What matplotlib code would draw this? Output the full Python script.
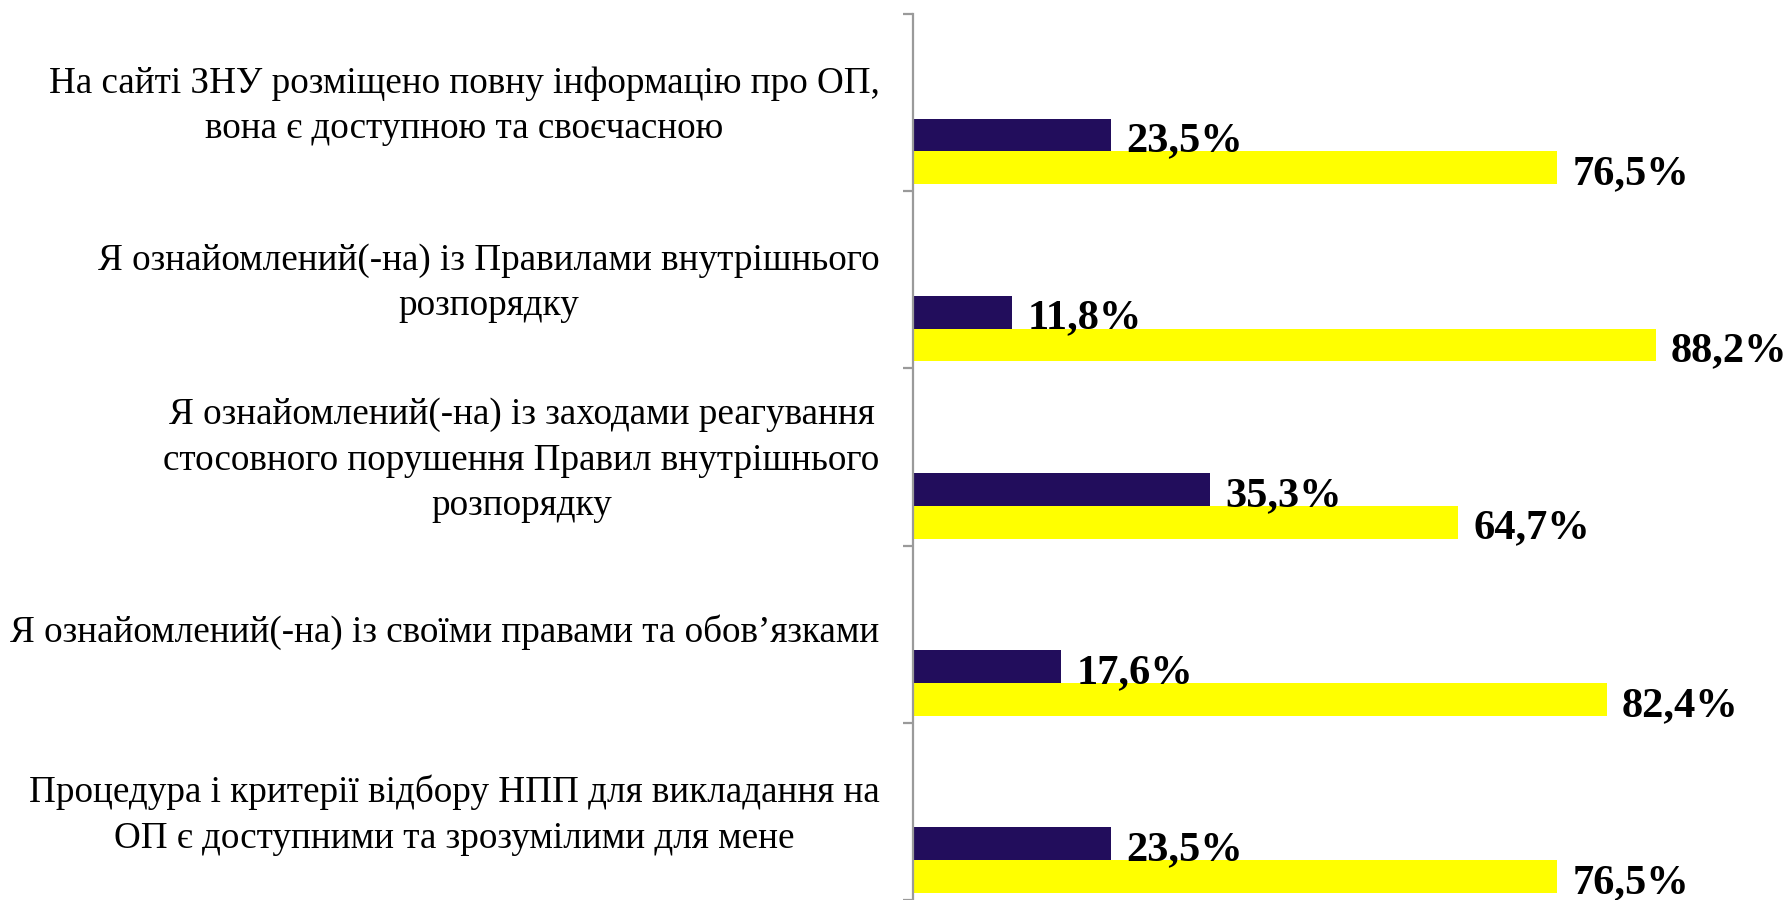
import matplotlib
matplotlib.use("Agg")
import matplotlib.pyplot as plt
import numpy as np

# data
categories = [
    "На сайті ЗНУ розміщено повну інформацію про ОП,\nвона є доступною та своєчасною",
    "Я ознайомлений(-на) із Правилами внутрішнього\nрозпорядку",
    "Я ознайомлений(-на) із заходами реагування\nстосовного порушення Правил внутрішнього\nрозпорядку",
    "Я ознайомлений(-на) із своїми правами та обов’язками",
    "Процедура і критерії відбору НПП для викладання на\nОП є доступними та зрозумілими для мене",
]
no_values = [23.5, 11.8, 35.3, 17.6, 23.5]
yes_values = [76.5, 88.2, 64.7, 82.4, 76.5]

navy = "#220D5C"
yellow = "#FFFF00"
axis_grey = "#9A9A9A"

plt.rcParams['font.family'] = ['Liberation Serif', 'DejaVu Serif']

fig = plt.figure(figsize=(17.9, 9), dpi=100)
ax = fig.add_axes([913 / 1790, 0.0, 842 / 1790, 886 / 900])

pos = np.arange(len(categories))
bar_h = 0.185
ax.barh(pos + 0.59, no_values, height=bar_h, align='edge', color=navy)
ax.barh(pos + 0.59 + bar_h, yes_values, height=bar_h, align='edge', color=yellow)

# value labels, baseline sitting on the lower edge of each bar
for i in range(len(categories)):
    for v, off in ((no_values[i], 0.59), (yes_values[i], 0.59 + bar_h)):
        ax.annotate(f"{v:.1f}%".replace('.', ','), (v, pos[i] + off + bar_h),
                    xytext=(11, 0), textcoords='offset points',
                    ha='left', va='baseline', fontsize=30.5, fontweight='bold',
                    color='black', annotation_clip=False)

ax.set_xlim(0, 100)
ax.set_ylim(len(categories), 0)

# axis look
for s in ('top', 'right', 'bottom'):
    ax.spines[s].set_visible(False)
ax.spines['left'].set_color(axis_grey)
ax.spines['left'].set_linewidth(1.6)
ax.set_xticks([])
ax.set_yticks(np.arange(len(categories) + 1))
ax.set_yticklabels([])
ax.tick_params(axis='y', which='major', length=7.5, width=1.6, color=axis_grey)
# category labels sit a touch above the band centre
ax.set_yticks(pos + 0.466, minor=True)
ax.set_yticklabels(categories, minor=True, fontsize=26.7, multialignment='center',
                   linespacing=1.42)
ax.tick_params(axis='y', which='minor', length=0, pad=24)

fig.savefig("out.png", dpi=100)
